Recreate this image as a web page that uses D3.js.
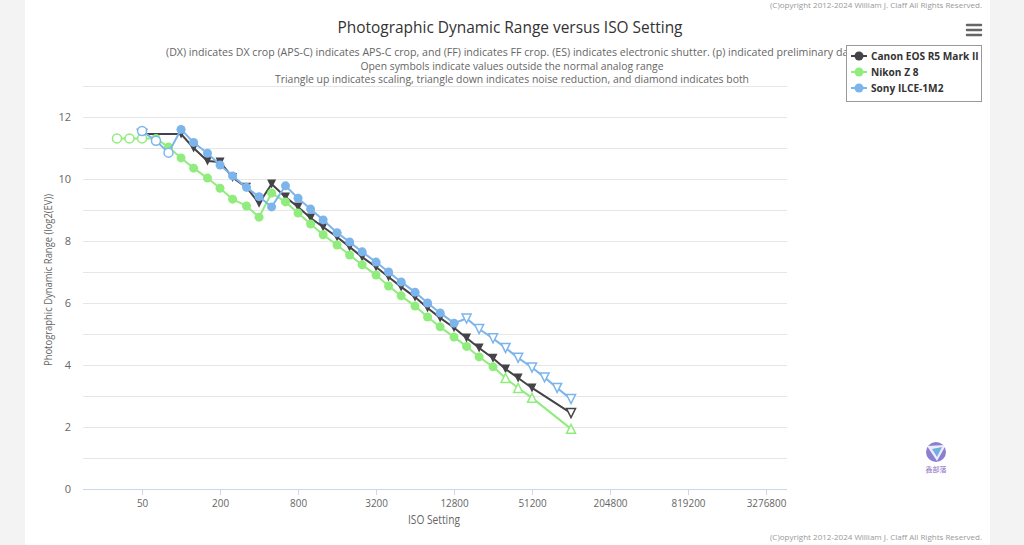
<!DOCTYPE html>
<html>
<head>
<meta charset="utf-8">
<script src="https://cdn.jsdelivr.net/npm/d3@7"></script>
<style>
  body { margin: 0; background: #f3f3f3; }
  svg { display: block; }
  text { font-family: "Open Sans", sans-serif; }
</style>
</head>
<body>
<div id="chart"></div>
<script>
// data
var xTicks = [50, 200, 800, 3200, 12800, 51200, 204800, 819200, 3276800];
var yTicks = [0, 2, 4, 6, 8, 10, 12];

var canonIso = [50,100,125,160,200,250,320,400,500,640,800,1000,1250,1600,2000,2500,3200,4000,5000,6400,8000,10000,12800,16000,20000,25600,32000,40000,51200,102400];
var canonDR  = [11.45,11.45,11.0,10.58,10.55,10.05,9.73,9.22,9.84,9.42,9.1,8.74,8.45,8.13,7.81,7.48,7.16,6.84,6.52,6.19,5.84,5.52,5.2,4.87,4.55,4.22,3.87,3.58,3.26,2.45];
// o = open circle, c = circle, v = triangle down, V = open triangle down, A = open triangle up
var canonMark = ["V","v","v","v","v","v","v","v","v","v","v","v","v","v","v","v","v","v","v","v","v","v","v","v","v","v","v","v","v","V"];

var nikonIso = [32,40,50,64,80,100,125,160,200,250,320,400,500,640,800,1000,1250,1600,2000,2500,3200,4000,5000,6400,8000,10000,12800,16000,20000,25600,32000,40000,51200,102400];
var nikonDR  = [11.31,11.31,11.31,11.31,11.03,10.68,10.35,10.03,9.7,9.35,9.13,8.77,9.55,9.26,8.9,8.55,8.2,7.87,7.55,7.23,6.9,6.55,6.23,5.9,5.55,5.23,4.9,4.6,4.26,3.94,3.58,3.26,2.94,1.94];
var nikonMark = ["o","o","o","c","c","c","c","c","c","c","c","c","c","c","c","c","c","c","c","c","c","c","c","c","c","c","c","c","c","c","A","A","A","A"];

var sonyIso = [50,64,80,100,125,160,200,250,320,400,500,640,800,1000,1250,1600,2000,2500,3200,4000,5000,6400,8000,10000,12800,16000,20000,25600,32000,40000,51200,64000,80000,102400];
var sonyDR  = [11.55,11.23,10.85,11.6,11.18,10.83,10.45,10.1,9.73,9.43,9.1,9.78,9.38,9.03,8.68,8.27,7.97,7.65,7.32,7.0,6.68,6.35,6.0,5.68,5.35,5.5,5.16,4.86,4.55,4.23,3.92,3.6,3.26,2.9];
var sonyMark = ["o","o","o","c","c","c","c","c","c","c","c","c","c","c","c","c","c","c","c","c","c","c","c","c","c","V","V","V","V","V","V","V","V","V"];

var seriesNames = ["Canon EOS R5 Mark II", "Nikon Z 8", "Sony ILCE-1M2"];
var seriesColors = ["#434348", "#90ed7d", "#7cb5ec"];

var series = [
  {name: seriesNames[0], color: seriesColors[0], iso: canonIso, dr: canonDR, mark: canonMark},
  {name: seriesNames[1], color: seriesColors[1], iso: nikonIso, dr: nikonDR, mark: nikonMark},
  {name: seriesNames[2], color: seriesColors[2], iso: sonyIso, dr: sonyDR, mark: sonyMark}
];

var W = 1024, H = 545;
var plot = {left: 83, right: 787, top: 86, bottom: 489};

// narrow the text a bit, the original font is condensed
function squeeze(sel, f) {
  sel.each(function() {
    var len = this.getComputedTextLength();
    d3.select(this).attr("textLength", len * f).attr("lengthAdjust", "spacingAndGlyphs");
  });
}

var svg = d3.select("#chart").append("svg")
  .attr("width", W).attr("height", H);

// white chart card
svg.append("rect").attr("x", 25).attr("y", 0).attr("width", 965).attr("height", H).attr("fill", "#fff");

var x = d3.scaleLog().base(2)
  .domain([17.5, 4760000])
  .range([plot.left, plot.right]);
var y = d3.scaleLinear()
  .domain([0, 13])
  .range([plot.bottom, plot.top]);

// grid lines at every integer
svg.append("g").selectAll("line")
  .data(d3.range(0, 14))
  .enter().append("line")
    .attr("x1", plot.left).attr("x2", plot.right)
    .attr("y1", function(d) { return y(d) + 0.5; })
    .attr("y2", function(d) { return y(d) + 0.5; })
    .attr("stroke", "#e6e6e6").attr("stroke-width", 1);

// y axis labels
var yAxis = svg.append("g")
  .attr("transform", "translate(" + (plot.left - 12) + ",0)")
  .call(d3.axisLeft(y).tickValues(yTicks).tickSize(0).tickPadding(0));
yAxis.select(".domain").remove();
yAxis.selectAll("text").attr("fill", "#666").style("font-size", "11px")
  .style("font-family", "'Open Sans', sans-serif").attr("dy", "0.32em");

// x axis
var xAxis = svg.append("g")
  .attr("transform", "translate(0," + plot.bottom + ")")
  .call(d3.axisBottom(x).tickValues(xTicks).tickFormat(d3.format("d")).tickSize(6).tickPadding(4));
xAxis.select(".domain").attr("stroke", "#ccd6eb").attr("d", "M" + plot.left + ",0.5H" + plot.right);
xAxis.selectAll(".tick line").attr("stroke", "#ccd6eb");
xAxis.selectAll("text").attr("fill", "#666").style("font-size", "11px");
squeeze(xAxis.selectAll("text"), 0.9);

// axis titles
var xTitle = svg.append("text")
  .attr("x", (plot.left + plot.right) / 2 - 1).attr("y", 524)
  .attr("text-anchor", "middle").attr("fill", "#666").style("font-size", "12px")
  .text("ISO Setting");
squeeze(xTitle, 0.85);
svg.append("text")
  .attr("transform", "translate(52,280) rotate(-90)")
  .attr("text-anchor", "middle").attr("fill", "#666").style("font-size", "11px")
  .attr("textLength", 172).attr("lengthAdjust", "spacingAndGlyphs")
  .text("Photographic Dynamic Range (log2(EV))");

// title and subtitle
svg.append("text")
  .attr("x", 510).attr("y", 33)
  .attr("text-anchor", "middle").attr("fill", "#333").style("font-size", "17px")
  .attr("textLength", 345).attr("lengthAdjust", "spacingAndGlyphs")
  .text("Photographic Dynamic Range versus ISO Setting");
var subLines = [
  "(DX) indicates DX crop (APS-C) indicates APS-C crop, and (FF) indicates FF crop. (ES) indicates electronic shutter. (p) indicated preliminary data",
  "Open symbols indicate values outside the normal analog range",
  "Triangle up indicates scaling, triangle down indicates noise reduction, and diamond indicates both"
];
var subLen = [692, 303, 474];
svg.append("g").selectAll("text")
  .data(subLines)
  .enter().append("text")
    .attr("x", 512)
    .attr("y", function(d, i) { return 56 + i * 13.5; })
    .attr("text-anchor", "middle").attr("fill", "#666").style("font-size", "11px")
    .attr("textLength", function(d, i) { return subLen[i]; })
    .attr("lengthAdjust", "spacingAndGlyphs")
    .text(function(d) { return d; });

// copyright lines
[5, 537].forEach(function(yy) {
  svg.append("text")
    .attr("x", 982).attr("y", yy + 3)
    .attr("text-anchor", "end").attr("fill", "#999").style("font-size", "8px")
    .attr("textLength", 212).attr("lengthAdjust", "spacingAndGlyphs")
    .text("(C)opyright 2012-2024 William J. Claff All Rights Reserved.");
});

// menu icon
svg.append("g").selectAll("line")
  .data([25, 30, 35])
  .enter().append("line")
    .attr("x1", 967).attr("x2", 981)
    .attr("y1", function(d) { return d; }).attr("y2", function(d) { return d; })
    .attr("stroke", "#666").attr("stroke-width", 2.5).attr("stroke-linecap", "round");

// marker helper
var r = 4.5;
function drawMarker(g, code, px, py, color) {
  var open = (code === "o" || code === "V" || code === "A");
  var el;
  if (code === "o" || code === "c") {
    el = g.append("circle").attr("cx", px).attr("cy", py).attr("r", r);
  } else if (code === "v" || code === "V") {
    el = g.append("path").attr("d", "M" + (px - r) + "," + (py - r) + "L" + (px + r) + "," + (py - r) + "L" + px + "," + (py + r) + "Z");
  } else {
    el = g.append("path").attr("d", "M" + (px - r) + "," + (py + r) + "L" + (px + r) + "," + (py + r) + "L" + px + "," + (py - r) + "Z");
  }
  el.attr("fill", open ? "#fff" : color)
    .attr("stroke", color)
    .attr("stroke-width", open ? 1.5 : 0);
}

var line = d3.line()
  .x(function(d) { return x(d[0]); })
  .y(function(d) { return y(d[1]); });

series.forEach(function(s) {
  var g = svg.append("g");
  var pts = s.iso.map(function(v, i) { return [v, s.dr[i]]; });
  g.append("path")
    .datum(pts)
    .attr("d", line)
    .attr("fill", "none")
    .attr("stroke", s.color)
    .attr("stroke-width", 2);
  pts.forEach(function(p, i) {
    drawMarker(g, s.mark[i], x(p[0]), y(p[1]), s.color);
  });
});

// legend
var lg = svg.append("g").attr("transform", "translate(846,45)");
lg.append("rect").attr("x", 0.5).attr("y", 0.5).attr("width", 135).attr("height", 56)
  .attr("fill", "#fff").attr("stroke", "#999").attr("stroke-width", 1);
seriesNames.forEach(function(n, i) {
  var row = lg.append("g").attr("transform", "translate(0," + (11 + i * 16) + ")");
  row.append("line").attr("x1", 5).attr("x2", 21).attr("y1", 0).attr("y2", 0)
    .attr("stroke", seriesColors[i]).attr("stroke-width", 2);
  row.append("circle").attr("cx", 13).attr("cy", 0).attr("r", 4.5).attr("fill", seriesColors[i]);
  var t = row.append("text").attr("x", 25).attr("y", 4).attr("fill", "#333")
    .style("font-size", "11px").style("font-weight", "bold").text(n);
  squeeze(t, 0.92);
});

// small watermark logo
var logo = svg.append("g").attr("transform", "translate(936,452)");
logo.append("circle").attr("cx", 0).attr("cy", 0).attr("r", 10).attr("fill", "#8a7fd0");
logo.append("path").attr("d", "M-9,-6L10,-7L1,9Z").attr("fill", "#fff").attr("opacity", 0.85);
logo.append("path").attr("d", "M-4,-3L6,-5L1,5Z").attr("fill", "#6fb0e0");
logo.append("text").attr("x", 0).attr("y", 20).attr("text-anchor", "middle")
  .attr("fill", "#8a6fc0").style("font-size", "7px")
  .style("font-family", "'Noto Sans CJK SC', sans-serif").text("鑫部落");
</script>
</body>
</html>
